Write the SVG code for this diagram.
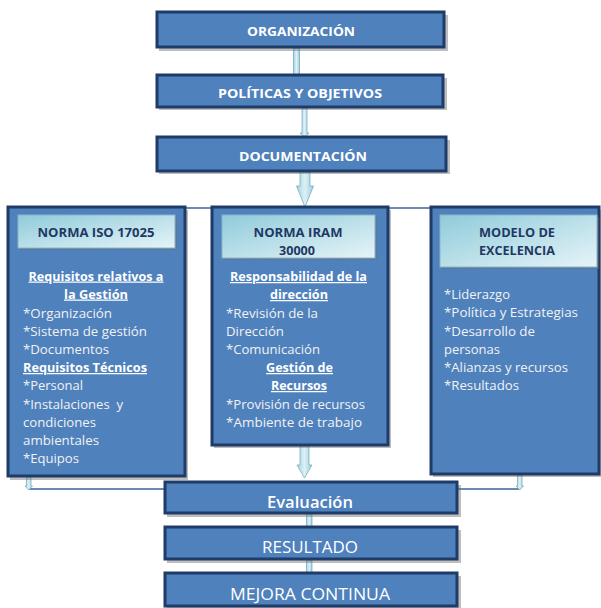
<svg xmlns="http://www.w3.org/2000/svg" width="601" height="608" viewBox="0 0 601 608">
<defs>
<linearGradient id="hdr" x1="0" y1="0" x2="1" y2="1">
<stop offset="0" stop-color="#8FCBDA"/>
<stop offset="1" stop-color="#E6F4F8"/>
</linearGradient>
<linearGradient id="arr" x1="0" y1="0" x2="1" y2="0">
<stop offset="0" stop-color="#A5D4E2"/>
<stop offset="0.5" stop-color="#DDF0F5"/>
<stop offset="1" stop-color="#9CCFDE"/>
</linearGradient>
</defs>
<style>
.box{fill:#4F81BD;stroke:#1F3B68;stroke-width:3}
.sh{fill:#6E6E6E;opacity:0.45}
.hdr{fill:url(#hdr);stroke:#8DB4C8;stroke-width:1}
.arr{fill:url(#arr);stroke:#6FA3BC;stroke-width:0.7}
.ln{stroke:#3E6495;stroke-width:1.6;fill:none}
.tt{font-family:"Open Sans",sans-serif;font-weight:bold;font-size:13px;fill:#FFFFFF;text-anchor:middle}
.ht{font-family:"Open Sans",sans-serif;font-weight:bold;font-size:12.5px;fill:#1F3864;text-anchor:middle}
.bt{font-family:"Open Sans",sans-serif;font-size:12.5px;fill:#F2F2F2;white-space:pre}
.bu{font-family:"Open Sans",sans-serif;font-weight:bold;font-size:12.5px;fill:#FFFFFF;text-decoration:underline}
.c{text-anchor:middle}
.big{font-family:"Open Sans",sans-serif;font-size:16px;fill:#FFFFFF;text-anchor:middle}
</style>

<g id="connectors">
<line class="ln" x1="185" y1="208" x2="431" y2="208"/>
<polyline class="ln" points="29,489 165,489"/>
<polyline class="ln" points="457,489 520,489"/>
<rect class="arr" x="293.5" y="48" width="6" height="27"/>
<path class="arr" d="M302,108 h5 v25 h2 l-4.5,4 l-4.5,-4 h2 z"/>
<path class="arr" d="M300,172 h10 v14 h3.5 l-8.5,21 l-8.5,-21 h3.5 z"/>
<path class="arr" d="M300,446 h9 v19 h3 l-7.5,13 l-7.5,-13 h3 z"/>
<rect class="arr" x="306.5" y="514" width="5.5" height="13"/>
<rect class="arr" x="306.5" y="560" width="5.5" height="13"/>
<path class="arr" d="M26.5,477 h4.5 v9 h1.5 l-3.75,4 l-3.75,-4 h1.5 z"/>
<path class="arr" d="M517.5,475 h4.5 v11 h1.5 l-3.75,4 l-3.75,-4 h1.5 z"/>
</g>

<g id="organizacion">
<rect class="sh" x="159" y="15" width="289" height="36"/>
<rect class="box" x="157" y="12" width="287" height="35"/>
<text class="tt" x="301" y="36" textLength="108" lengthAdjust="spacingAndGlyphs">ORGANIZACIÓN</text>
</g>

<g id="politicas">
<rect class="sh" x="159" y="78" width="288" height="32"/>
<rect class="box" x="157" y="75" width="286" height="32"/>
<text class="tt" x="300" y="97.5" textLength="164" lengthAdjust="spacingAndGlyphs">POLÍTICAS Y OBJETIVOS</text>
</g>

<g id="documentacion">
<rect class="sh" x="159" y="140" width="291" height="34"/>
<rect class="box" x="157" y="137" width="289" height="34"/>
<text class="tt" x="303" y="161" textLength="128" lengthAdjust="spacingAndGlyphs">DOCUMENTACIÓN</text>
</g>

<g id="iso17025">
<rect class="sh" x="10" y="210" width="178" height="270"/>
<rect class="box" x="8" y="207" width="177" height="269"/>
<rect class="sh" x="20" y="217" width="157" height="33"/>
<rect class="hdr" x="18" y="215" width="157" height="33"/>
<text class="ht" x="96" y="236.5" textLength="117" lengthAdjust="spacingAndGlyphs">NORMA ISO 17025</text>
<text class="bu c" x="96" y="280.5" textLength="135" lengthAdjust="spacingAndGlyphs">Requisitos relativos a</text>
<text class="bu c" x="96" y="298.5" textLength="64" lengthAdjust="spacingAndGlyphs">la Gestión</text>
<text class="bt" x="23" y="317.5" textLength="89" lengthAdjust="spacingAndGlyphs">*Organización</text>
<text class="bt" x="23" y="336" textLength="124" lengthAdjust="spacingAndGlyphs">*Sistema de gestión</text>
<text class="bt" x="23" y="354" textLength="86" lengthAdjust="spacingAndGlyphs">*Documentos</text>
<text class="bu" x="23" y="372" textLength="124" lengthAdjust="spacingAndGlyphs">Requisitos Técnicos</text>
<text class="bt" x="23" y="390" textLength="60" lengthAdjust="spacingAndGlyphs">*Personal</text>
<text class="bt" x="23" y="409" textLength="100" lengthAdjust="spacingAndGlyphs">*Instalaciones  y</text>
<text class="bt" x="23" y="427" textLength="73" lengthAdjust="spacingAndGlyphs">condiciones</text>
<text class="bt" x="23" y="445" textLength="76" lengthAdjust="spacingAndGlyphs">ambientales</text>
<text class="bt" x="23" y="463" textLength="56" lengthAdjust="spacingAndGlyphs">*Equipos</text>
</g>

<g id="iram30000">
<rect class="sh" x="214" y="210" width="177" height="238"/>
<rect class="box" x="212" y="207" width="176" height="238"/>
<rect class="sh" x="224" y="217" width="153" height="43"/>
<rect class="hdr" x="222" y="215" width="153" height="43"/>
<text class="ht" x="298" y="236.5" textLength="89" lengthAdjust="spacingAndGlyphs">NORMA IRAM</text>
<text class="ht" x="297" y="254.5" textLength="36" lengthAdjust="spacingAndGlyphs">30000</text>
<text class="bu c" x="298.5" y="281" textLength="137" lengthAdjust="spacingAndGlyphs">Responsabilidad de la</text>
<text class="bu c" x="299" y="299" textLength="58" lengthAdjust="spacingAndGlyphs">dirección</text>
<text class="bt" x="226" y="317.5" textLength="92" lengthAdjust="spacingAndGlyphs">*Revisión de la</text>
<text class="bt" x="226" y="335.5" textLength="58" lengthAdjust="spacingAndGlyphs">Dirección</text>
<text class="bt" x="226" y="354" textLength="94" lengthAdjust="spacingAndGlyphs">*Comunicación</text>
<text class="bu c" x="299.5" y="372" textLength="67" lengthAdjust="spacingAndGlyphs">Gestión de</text>
<text class="bu c" x="299" y="390" textLength="56" lengthAdjust="spacingAndGlyphs">Recursos</text>
<text class="bt" x="226" y="409" textLength="139" lengthAdjust="spacingAndGlyphs">*Provisión de recursos</text>
<text class="bt" x="226" y="427" textLength="136" lengthAdjust="spacingAndGlyphs">*Ambiente de trabajo</text>
</g>

<g id="excelencia">
<rect class="sh" x="433" y="210" width="170" height="267"/>
<rect class="box" x="431" y="207" width="168" height="267"/>
<rect class="sh" x="442" y="217" width="157" height="52"/>
<rect class="hdr" x="440" y="215" width="157" height="52"/>
<text class="ht" x="517" y="236.5" textLength="76" lengthAdjust="spacingAndGlyphs">MODELO DE</text>
<text class="ht" x="517" y="254.5" textLength="76" lengthAdjust="spacingAndGlyphs">EXCELENCIA</text>
<text class="bt" x="444" y="298.5" textLength="66" lengthAdjust="spacingAndGlyphs">*Liderazgo</text>
<text class="bt" x="444" y="317" textLength="134" lengthAdjust="spacingAndGlyphs">*Política y Estrategias</text>
<text class="bt" x="444" y="335.5" textLength="91" lengthAdjust="spacingAndGlyphs">*Desarrollo de</text>
<text class="bt" x="444" y="353.5" textLength="56" lengthAdjust="spacingAndGlyphs">personas</text>
<text class="bt" x="444" y="372" textLength="124" lengthAdjust="spacingAndGlyphs">*Alianzas y recursos</text>
<text class="bt" x="444" y="390" textLength="75" lengthAdjust="spacingAndGlyphs">*Resultados</text>
</g>

<g id="evaluacion">
<rect class="sh" x="167" y="485" width="294" height="32"/>
<rect class="box" x="165" y="482" width="292" height="31"/>
<text class="big" x="310" y="507.5" font-weight="600" textLength="86" lengthAdjust="spacingAndGlyphs">Evaluación</text>
</g>

<g id="resultado">
<rect class="sh" x="167" y="530" width="294" height="33"/>
<rect class="box" x="165" y="527" width="292" height="32"/>
<text class="big" x="310" y="553" textLength="96" lengthAdjust="spacingAndGlyphs">RESULTADO</text>
</g>

<g id="mejora">
<rect class="sh" x="167" y="576" width="294" height="33"/>
<rect class="box" x="165" y="573" width="292" height="33"/>
<text class="big" x="310" y="599.5" textLength="160" lengthAdjust="spacingAndGlyphs">MEJORA CONTINUA</text>
</g>
</svg>
